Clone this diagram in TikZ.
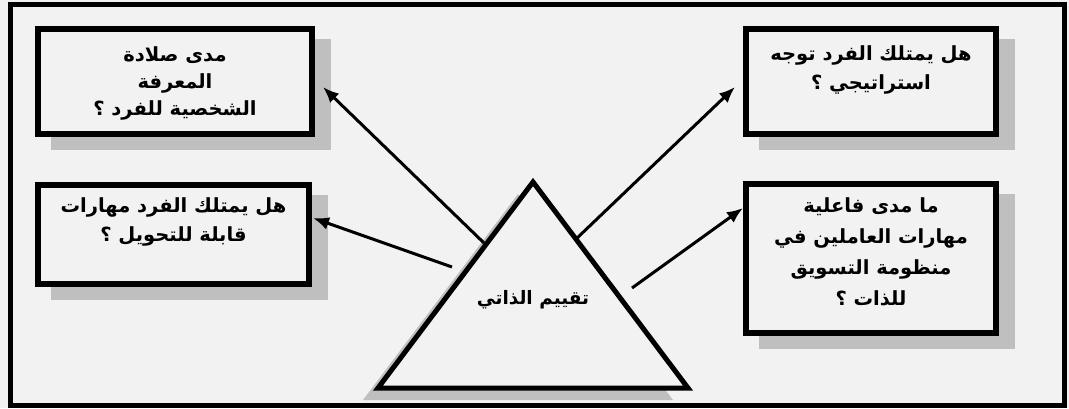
\documentclass[tikz,border=0pt]{standalone}
\usepackage{fontspec}
\newfontfamily\arabicfont[Script=Arabic]{DejaVu Sans}
\TeXXeTstate=1
\usetikzlibrary{arrows.meta,shadows}
\definecolor{bg}{HTML}{F2F2F2}
\definecolor{shadowgray}{HTML}{BFBFBF}
\newcommand{\rl}[1]{\beginR #1\endR}
\begin{document}
\begin{tikzpicture}[x=1pt,y=-1pt,
  qbox/.style={draw=black, line width=6pt, fill=bg, inner sep=0pt, outer sep=0pt,
    general shadow={fill=shadowgray, draw=shadowgray, line width=6pt, shadow xshift=16pt, shadow yshift=-13pt}},
  qtext/.style={anchor=north, align=center, font=\arabicfont\bfseries\fontsize{19.5}{29}\selectfont, inner sep=0pt},
  arr/.style={line width=3pt, -{Latex[length=16pt,width=13pt]}},
  tritext/.style={font=\arabicfont\bfseries\fontsize{18.5}{20}\selectfont, inner sep=0pt}]
  % background and bounding box
  \fill[bg] (0,0) rectangle (1069,408);
  \useasboundingbox (0,0) rectangle (1069,408);
  % outer frame
  \draw[line width=5pt] (10,4.5) rectangle (1064,405);
  % boxes
  \node[qbox, minimum width=274pt, minimum height=105pt] (tl) at (175,81.5) {};
  \node[qbox, minimum width=250pt, minimum height=105pt] (tr) at (871,81.5) {};
  \node[qbox, minimum width=271pt, minimum height=99pt] (ml) at (173.5,234.5) {};
  \node[qbox, minimum width=250pt, minimum height=149pt] (mr) at (871,258.5) {};
  % texts
  \node[qtext, font=\arabicfont\bfseries\fontsize{19.5}{27}\selectfont] (tlt) at ([yshift=-17pt]tl.north) {\rl{مدى صلادة}\\\rl{المعرفة}\\\rl{الشخصية للفرد ؟}};
  \node[qtext] (trt) at ([yshift=-16pt]tr.north) {\rl{هل يمتلك الفرد توجه}\\\rl{استراتيجي ؟}};
  \node[qtext] (mlt) at ([yshift=-12pt]ml.north) {\rl{هل يمتلك الفرد مهارات}\\\rl{قابلة للتحويل ؟}};
  \node[qtext, font=\arabicfont\bfseries\fontsize{19.5}{31}\selectfont] (mrt) at ([yshift=-13pt]mr.north) {\rl{ما مدى فاعلية}\\\rl{مهارات العاملين في}\\\rl{منظومة التسويق}\\\rl{للذات ؟}};
  % triangle shadow and triangle
  \begin{scope}
    \clip (12.5,7) rectangle (1061.5,402.5);
    \fill[shadowgray] (518,194) -- (363,400) -- (673,400) -- cycle;
  \end{scope}
  \draw[line width=5pt, fill=bg, line join=miter] (533,182) -- (378,388) -- (688,388) -- cycle;
  \node[tritext] (tri) at (533,300) {\rl{تقييم الذاتي}};
  % arrows
  \coordinate (s1) at (484,243);
  \coordinate (e1) at (323,87);
  \coordinate (s2) at (575,240);
  \coordinate (e2) at (735,87);
  \coordinate (s3) at (452,267);
  \coordinate (e3) at (313,218);
  \coordinate (s4) at (632,288);
  \coordinate (e4) at (743,208);
  \draw[arr] (s1) -- (e1);
  \draw[arr] (s2) -- (e2);
  \draw[arr] (s3) -- (e3);
  \draw[arr] (s4) -- (e4);
\end{tikzpicture}
\end{document}
